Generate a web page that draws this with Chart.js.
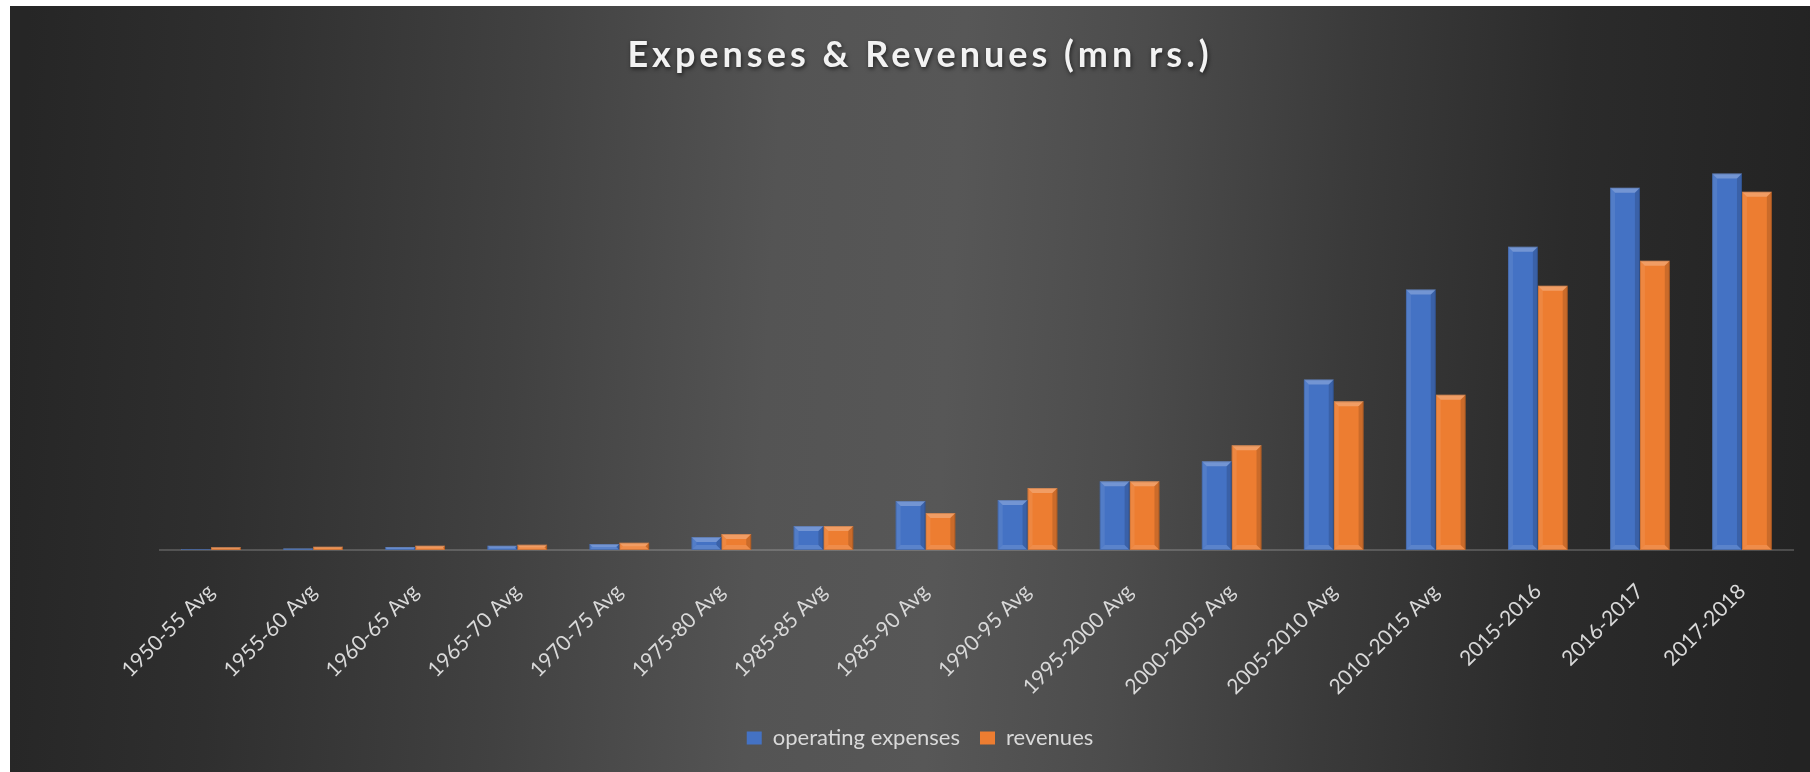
<!DOCTYPE html>
<html>
<head>
<meta charset="utf-8">
<script src="https://cdn.jsdelivr.net/npm/chart.js@4.4.1/dist/chart.umd.min.js"></script>
<style>
  html, body { margin: 0; padding: 0; background: #ffffff; }
  #wrap { width: 1810px; height: 772px; }
</style>
</head>
<body>
<div id="wrap"><canvas id="myChart" width="1810" height="772"></canvas></div>
<script>
const categories = [
  "1950-55 Avg", "1955-60 Avg", "1960-65 Avg", "1965-70 Avg", "1970-75 Avg",
  "1975-80 Avg", "1985-85 Avg", "1985-90 Avg", "1990-95 Avg", "1995-2000 Avg",
  "2000-2005 Avg", "2005-2010 Avg", "2010-2015 Avg", "2015-2016", "2016-2017", "2017-2018"
];
const operatingExpenses = [100, 150, 300, 430, 600, 1300, 2400, 4900, 5000, 6870, 8870, 17070, 26070, 30330, 36250, 37670];
const revenues = [270, 330, 430, 520, 730, 1600, 2400, 3700, 6200, 6870, 10470, 14870, 15530, 26450, 28950, 35850];
const yMax = 40000;

// dark backdrop, lighter towards the middle
const backdrop = {
  id: "backdrop",
  beforeDraw(chart) {
    const ctx = chart.ctx;
    ctx.save();
    ctx.fillStyle = "#ffffff";
    ctx.fillRect(0, 0, chart.width, chart.height);
    const g = ctx.createLinearGradient(10, 330, 1810, 430);
    g.addColorStop(0, "#262626");
    g.addColorStop(0.12, "#2f2f2f");
    g.addColorStop(0.28, "#414141");
    g.addColorStop(0.42, "#545454");
    g.addColorStop(0.52, "#575757");
    g.addColorStop(0.62, "#4c4c4c");
    g.addColorStop(0.74, "#3a3a3a");
    g.addColorStop(0.86, "#2b2b2b");
    g.addColorStop(1, "#232323");
    ctx.fillStyle = g;
    ctx.fillRect(10, 6, chart.width - 10, chart.height - 6);
    ctx.restore();

    // spaced, shadowed title
    const tb = chart.titleBlock;
    if (tb && !tb._spaced) {
      const orig = tb.draw;
      tb.draw = function () {
        const c = this.ctx;
        c.save();
        c.letterSpacing = "4px";
        c.shadowColor = "rgba(0,0,0,0.6)";
        c.shadowBlur = 4;
        c.shadowOffsetX = 1;
        c.shadowOffsetY = 2;
        orig.apply(this, arguments);
        c.restore();
      };
      tb._spaced = true;
    }
  }
};

// bevel edges on each bar
const bevel = {
  id: "bevel",
  afterDatasetsDraw(chart) {
    const ctx = chart.ctx;
    chart.data.datasets.forEach((ds, i) => {
      chart.getDatasetMeta(i).data.forEach((el) => {
        const left = el.x - el.width / 2, right = el.x + el.width / 2;
        const top = Math.min(el.y, el.base), bottom = Math.max(el.y, el.base);
        const b = Math.min(5, (bottom - top) / 2, el.width / 2);
        if (b <= 0) return;
        const poly = (pts, fill) => {
          ctx.beginPath();
          ctx.moveTo(pts[0][0], pts[0][1]);
          for (let k = 1; k < pts.length; k++) ctx.lineTo(pts[k][0], pts[k][1]);
          ctx.closePath();
          ctx.fillStyle = fill;
          ctx.fill();
        };
        ctx.save();
        poly([[left, top], [right, top], [right - b, top + b], [left + b, top + b]], "rgba(255,255,255,0.25)");
        poly([[left, top], [left + b, top + b], [left + b, bottom - b], [left, bottom]], "rgba(255,255,255,0.08)");
        poly([[right, top], [right - b, top + b], [right - b, bottom - b], [right, bottom]], "rgba(0,0,0,0.14)");
        poly([[left, bottom], [left + b, bottom - b], [right - b, bottom - b], [right, bottom]], "rgba(255,255,255,0.12)");
        ctx.strokeStyle = "rgba(0,0,0,0.15)";
        ctx.lineWidth = 1;
        ctx.strokeRect(left + 0.5, top + 0.5, el.width - 1, bottom - top - 1);
        ctx.restore();
      });
    });
  }
};

const ctx = document.getElementById("myChart").getContext("2d");
const myChart = new Chart(ctx, {
  type: "bar",
  data: {
    labels: categories,
    datasets: [
      {
        label: "operating expenses",
        data: operatingExpenses,
        backgroundColor: "#4472C4",
        borderWidth: 0,
        barPercentage: 1,
        categoryPercentage: 0.585,
      },
      {
        label: "revenues",
        data: revenues,
        backgroundColor: "#ED7D31",
        borderWidth: 0,
        barPercentage: 1,
        categoryPercentage: 0.585,
      },
    ],
  },
  options: {
    responsive: false,
    animation: false,
    layout: { padding: { top: 6, left: 30, right: 0, bottom: 13 } },
    plugins: {
      tooltip: { enabled: false },
      title: {
        display: true,
        text: "Expenses & Revenues (mn rs.)",
        color: "#f2f2f2",
        font: { family: "Lato", size: 36, weight: "bold", lineHeight: 1.2 },
        padding: { top: 28, bottom: 73 },
      },
      legend: {
        position: "bottom",
        labels: {
          color: "#d9d9d9",
          font: { family: "Lato", size: 22 },
          boxWidth: 15,
          boxHeight: 13,
          padding: 20,
        },
      },
    },
    scales: {
      x: {
        grid: { display: false, drawTicks: false },
        border: { display: true, color: "rgba(217,217,217,0.22)", width: 2 },
        ticks: {
          color: "#d9d9d9",
          font: { family: "Lato", size: 21 },
          autoSkip: false,
          maxRotation: 45,
          minRotation: 45,
          padding: 29,
        },
        afterFit: (s) => { s.height = 157; },
      },
      y: {
        min: 0,
        max: yMax,
        ticks: { display: false },
        grid: { display: false },
        border: { display: false },
        afterFit: (s) => { s.width = 130; },
      },
      y2: {
        type: "linear",
        position: "right",
        ticks: { display: false },
        grid: { display: false },
        border: { display: false },
        afterFit: (s) => { s.width = 17; },
      },
    },
  },
  plugins: [backdrop, bevel],
});
</script>
</body>
</html>
